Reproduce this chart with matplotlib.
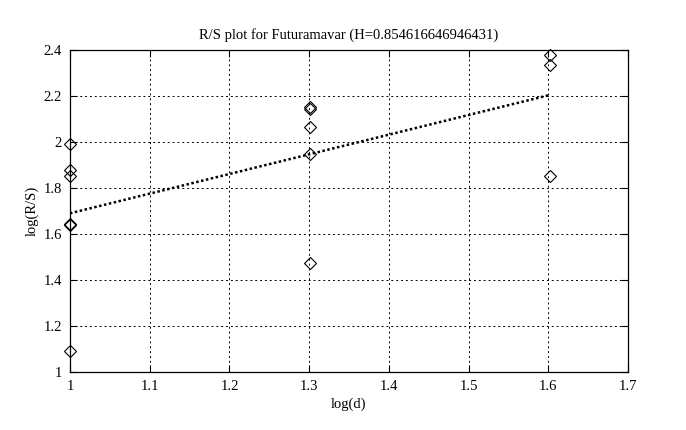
import numpy as np
import matplotlib
matplotlib.use('Agg')
import matplotlib.pyplot as plt

plt.rcParams['font.family'] = ['Liberation Serif', 'DejaVu Serif']

# log(d) and log(R/S)
log_d = [1.0, 1.0, 1.0, 1.0, 1.0, 1.0,
         1.301, 1.301, 1.301, 1.301, 1.301,
         1.602, 1.602, 1.602]
log_rs = [1.99, 1.878, 1.852, 1.645, 1.637, 1.091,
          2.153, 2.145, 2.065, 1.948, 1.474,
          2.378, 2.335, 1.851]
H = 0.854616646946431
intercept = 0.835
fit_x = [1.0, 1.602]

fig = plt.figure(figsize=(6.86, 4.30), dpi=100)
ax = fig.add_axes([0.102, 0.135, 0.8135, 0.749])

ax.plot(log_d, log_rs, linestyle='none', marker='D', markersize=6.5,
        markerfacecolor='none', markeredgecolor='black', markeredgewidth=0.8,
        clip_on=False, zorder=5)
fx = np.array(fit_x)
ax.plot(fx, H * fx + intercept, color='black', linestyle=(0, (1, 1)), linewidth=1.8)

ax.set_xlim(1, 1.7)
ax.set_ylim(1, 2.4)
ax.set_xticks(np.arange(1, 1.71, 0.1))
ax.set_xticklabels(['1', '1.1', '1.2', '1.3', '1.4', '1.5', '1.6', '1.7'])
ax.set_yticks(np.arange(1, 2.41, 0.2))
ax.set_yticklabels(['1', '1.2', '1.4', '1.6', '1.8', '2', '2.2', '2.4'])
ax.grid(True, color='black', linestyle=(0, (2, 3)), linewidth=0.7)
ax.tick_params(direction='in', top=True, right=True, labelsize=10.5, length=5, pad=6)
for s in ax.spines.values():
    s.set_linewidth(0.9)

ax.set_xlabel('log(d)', fontsize=10.5, labelpad=3)
ax.set_ylabel('log(R/S)', fontsize=10.5, labelpad=3)
ax.set_title('R/S plot for Futuramavar (H=0.854616646946431)', fontsize=10.5, pad=8)

fig.savefig('out.png', dpi=100)
